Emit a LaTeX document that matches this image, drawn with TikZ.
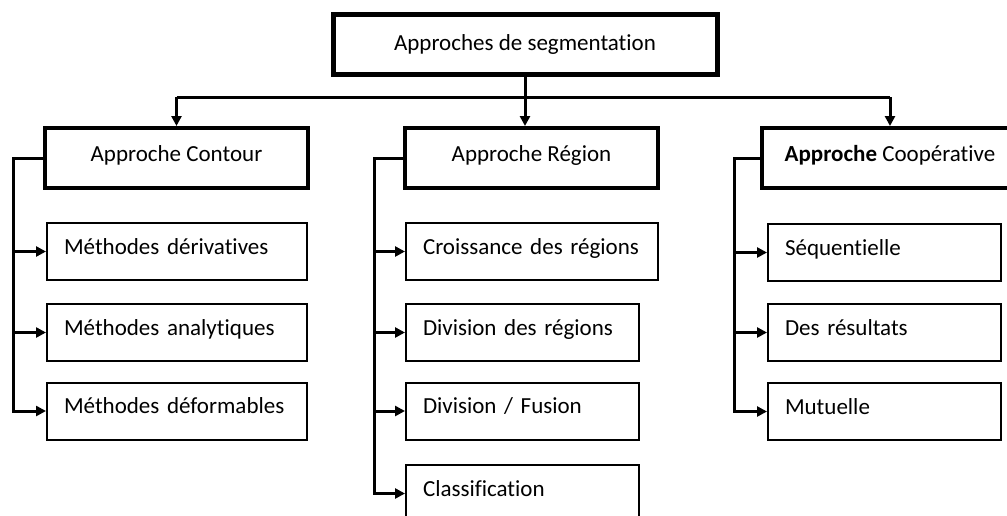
\documentclass[tikz,border=0pt]{standalone}
\usepackage{fontspec}
\setmainfont{Carlito}[Ligatures=NoCommon]
\usetikzlibrary{arrows.meta}
\begin{document}
\begin{tikzpicture}[x=1pt,y=-1pt,
  font=\fontsize{23}{27}\selectfont,
  topbox/.style={draw, line width=5pt, minimum width=384pt, minimum height=60pt, inner sep=0pt},
  headbox/.style={draw, line width=4pt, minimum height=60pt, inner sep=0pt, text height=14pt, text depth=8pt},
  leafbox/.style={draw, line width=2pt, minimum height=57pt, inner xsep=17pt, inner ysep=0pt, align=left, text height=14pt, text depth=9pt},
  conn/.style={line width=3pt},
  arr/.style={line width=3pt, -{Triangle[length=10pt,width=10pt]}}]
\clip (0,0) rectangle (1007,515);
\fill[white] (0,0) rectangle (1007,515);

% root
\node[topbox] (root) at (525,44) {Approches de segmentation};

% three approaches
\node[headbox, minimum width=263pt] (contour) at (176.5,158) {Approche Contour};
\node[headbox, minimum width=253pt] (region) at (531.5,158) {Approche Région};
\node[headbox, minimum width=256pt] (coop) at (890,158) {\textbf{Approche} Coopérative};

% contour methods
\node[leafbox, minimum width=260pt, text width=226pt] (c1) at (177,251.5) {Méthodes dérivatives};
\node[leafbox, minimum width=260pt, text width=226pt] (c2) at (177,332.5) {Méthodes analytiques};
\node[leafbox, minimum width=260pt, text width=226pt] (c3) at (177,411) {Méthodes déformables};

% region methods
\node[leafbox, minimum width=252pt, text width=218pt] (r1) at (532,251.5) {Croissance des régions};
\node[leafbox, minimum width=233pt, text width=199pt] (r2) at (522.5,332.5) {Division des régions};
\node[leafbox, minimum width=233pt, text width=199pt] (r3) at (522.5,411) {Division / Fusion};
\node[leafbox, minimum width=233pt, text width=199pt] (r4) at (522.5,493.5) {Classification};

% cooperative methods
\node[leafbox, minimum width=233pt, text width=199pt] (p1) at (884.5,252.5) {Séquentielle};
\node[leafbox, minimum width=233pt, text width=199pt] (p2) at (884.5,332.5) {Des résultats};
\node[leafbox, minimum width=233pt, text width=199pt] (p3) at (884.5,411.5) {Mutuelle};

% distribution bus below the root
\coordinate (bus) at (0,97);
\coordinate (tc) at (13,0);
\coordinate (tr) at (374,0);
\coordinate (tp) at (734,0);

\draw[arr] (root.south) -- (root.south |- region.north);
\draw[conn] (contour.north |- bus) -- (coop.north |- bus);
\draw[arr] (contour.north |- bus) -- (contour.north);
\draw[arr] (coop.north |- bus) -- (coop.north);

% contour branch
\draw[arr] (contour.west) -| (tc |- c3.west) -- (c3.west);
\draw[arr] (tc |- c1.west) -- (c1.west);
\draw[arr] (tc |- c2.west) -- (c2.west);

% region branch
\draw[arr] (region.west) -| (tr |- r4.west) -- (r4.west);
\draw[arr] (tr |- r1.west) -- (r1.west);
\draw[arr] (tr |- r2.west) -- (r2.west);
\draw[arr] (tr |- r3.west) -- (r3.west);

% cooperative branch
\draw[arr] (coop.west) -| (tp |- p3.west) -- (p3.west);
\draw[arr] (tp |- p1.west) -- (p1.west);
\draw[arr] (tp |- p2.west) -- (p2.west);
\end{tikzpicture}
\end{document}
